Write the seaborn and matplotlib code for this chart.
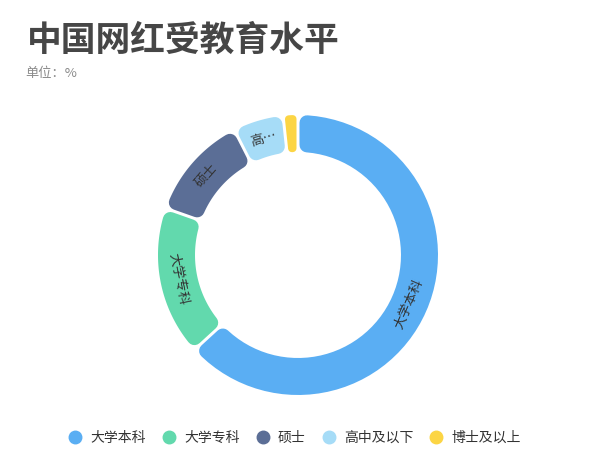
import numpy as np
import matplotlib
matplotlib.use("Agg")
import matplotlib.pyplot as plt
from matplotlib.patches import Polygon
from matplotlib.lines import Line2D
import seaborn as sns

categories = ["大学本科", "大学专科", "硕士", "高中及以下", "博士及以上"]
values = [63.2, 17.2, 12.1, 5.8, 1.7]
slice_labels = ["大学本科", "大学专科", "硕士", "高…", ""]
colors = ["#5AAEF3", "#62D9AD", "#5B6E96", "#A6DCF7", "#FCD544"]

sns.set_theme(style="white")
plt.rcParams['font.family'] = ['Noto Sans CJK SC', 'DejaVu Sans']

fig = plt.figure(figsize=(6, 4.7), dpi=100)

# donut axes: 300x300 px box centred on (298, 255)
ax = fig.add_axes([(298 - 150) / 600, (470 - 255 - 150) / 470, 300 / 600, 300 / 470])

R_OUT, R_IN = 1.40, 1.03
GAP, CORNER = 0.03, 0.075

wedges, _ = ax.pie(values, colors=colors, startangle=90, counterclock=False,
                   radius=R_OUT, wedgeprops=dict(width=R_OUT - R_IN))
ax.set_xlim(-1.5, 1.5)
ax.set_ylim(-1.5, 1.5)
ax.set_aspect("equal")
ax.axis("off")


def rounded_segment(t1, t2, color):
    # t1 < t2 in degrees; shrink the wedge, then stroke it with round joins
    a1, a2 = np.radians(t1), np.radians(t2)
    r = min(CORNER, (R_IN * np.sin((a2 - a1) / 2) - GAP / 2) * 0.95)
    d = r + GAP / 2
    ro, ri = R_OUT - r, R_IN + r
    pts = []
    for rad, rev in ((ro, False), (ri, True)):
        off = np.arcsin(min(d / rad, 1))
        lo, hi = a1 + off, a2 - off
        if hi < lo:
            lo = hi = (a1 + a2) / 2
        ang = np.linspace(lo, hi, 60)
        if rev:
            ang = ang[::-1]
        pts += [(rad * np.cos(a), rad * np.sin(a)) for a in ang]
    lw = 2 * r * 100 * 72 / 100  # data units -> px -> points
    ax.add_patch(Polygon(pts, closed=True, facecolor=color, edgecolor=color,
                         linewidth=lw, joinstyle="round", clip_on=False))


for w, c, lab in zip(wedges, colors, slice_labels):
    t1, t2 = w.theta1, w.theta2
    w.set_visible(False)
    rounded_segment(t1, t2, c)
    if lab:
        mid = np.radians((t1 + t2) / 2)
        rm = (R_OUT + R_IN) / 2
        rot = np.degrees(mid) - 90
        rot = (rot + 90) % 180 - 90
        ax.text(rm * np.cos(mid), rm * np.sin(mid), lab, rotation=rot,
                rotation_mode="anchor", ha="center", va="center",
                fontsize=9.5, color="#333333")

fig.text(27 / 600, 1 - 40 / 470, "中国网红受教育水平", fontsize=25, fontweight="bold",
         color="#464646", ha="left", va="center")
fig.text(25 / 600, 1 - 73 / 470, "单位：%", fontsize=9.5, color="#8a8a8a",
         ha="left", va="center")

handles = [Line2D([0], [0], marker="o", linestyle="", markersize=9,
                  markerfacecolor=c, markeredgecolor=c) for c in colors]
fig.legend(handles, categories, loc="center", bbox_to_anchor=(0.49, 1 - 438 / 470),
           ncol=5, frameon=False, fontsize=10, handletextpad=0.5, handlelength=1.2,
           columnspacing=1.05, labelcolor="#333333")

fig.savefig("out.png", dpi=100, facecolor="white")
